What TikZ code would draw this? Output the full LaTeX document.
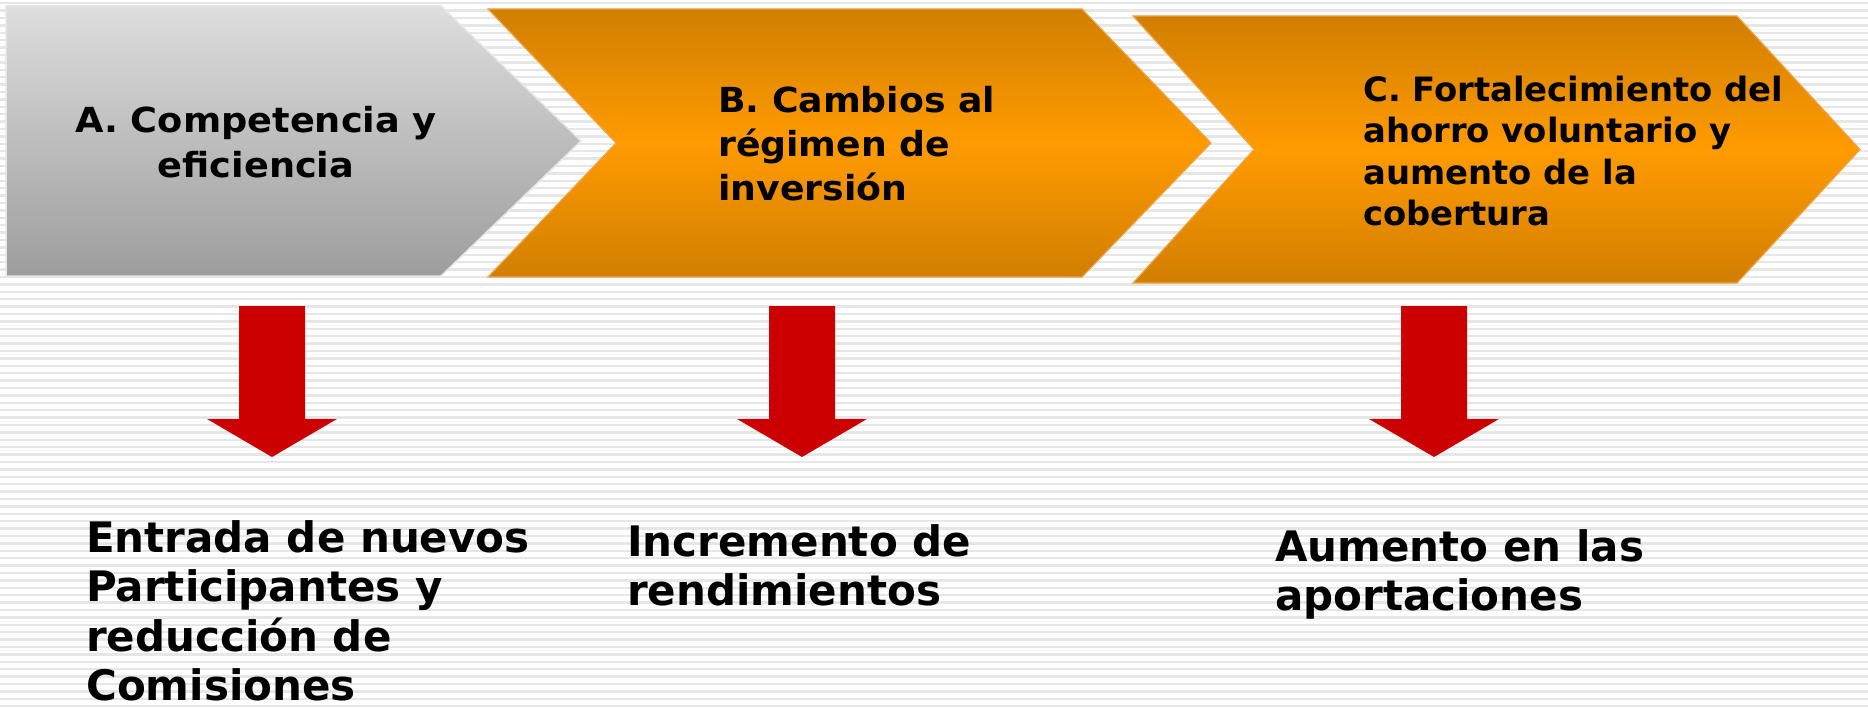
\documentclass[tikz,border=0pt]{standalone}
\usepackage{fontspec}
\setmainfont{DejaVu Sans}
\newfontfamily\fA[FakeStretch=1.064]{DejaVu Sans}
\newfontfamily\fB[FakeStretch=1.05]{DejaVu Sans}
\newfontfamily\fC[FakeStretch=1.01]{DejaVu Sans}
\def\ctrlines#1{\vtop{\halign{\hfil##\hfil\cr#1\crcr}}}
\def\leftlines#1{\vtop{\halign{##\hfil\cr#1\crcr}}}
\definecolor{stripe}{HTML}{E6E6E6}
\definecolor{greytop}{HTML}{DDDDDD}
\definecolor{greybot}{HTML}{9D9D9D}
\definecolor{greyborder}{HTML}{E6E6E6}
\definecolor{otop}{HTML}{D17E00}
\definecolor{omid}{HTML}{FF9B00}
\definecolor{oborder}{HTML}{EDA545}
\definecolor{arrowred}{HTML}{CC0000}
\begin{document}
\begin{tikzpicture}[x=1pt,y=1pt,
  chevgrey/.style={draw=greyborder,line width=1.5pt,line join=miter,top color=greytop,bottom color=greybot},
  chevorange/.style={draw=oborder,line width=1.2pt,line join=miter,top color=otop,bottom color=otop,middle color=omid},
  redarrow/.style={fill=arrowred,draw=none},
  headtxt/.style={inner sep=0pt,text=black},
  restxt/.style={inner sep=0pt,anchor=base west,text=black,font=\bfseries\fontsize{42}{49.5}\selectfont},
]
\useasboundingbox (0,0) rectangle (1868,-709);
\fill[white] (0,0) rectangle (1868,-709);
\foreach \i in {0,...,95} {
  \fill[stripe] (0,{-\i*7.4-2}) rectangle (1868,{-\i*7.4-4.4});
}
% chevrons
\path[chevgrey] (6,-6) -- (441,-6) -- (581,-141) -- (441,-276) -- (6,-276) -- cycle;
\path[chevorange] (488,-9) -- (1082,-9) -- (1211,-143) -- (1082,-277) -- (488,-277) -- (616,-143) -- cycle;
\path[chevorange] (1133,-16) -- (1737,-16) -- (1860,-149.5) -- (1737,-283) -- (1133,-283) -- (1254,-149.5) -- cycle;
% chevron texts
\node[headtxt,anchor=base,font=\fA\bfseries\fontsize{34.5}{44.6}\selectfont] (ta) at (256,-132.5)
  {\ctrlines{A. Competencia y\cr eficiencia}};
\node[headtxt,anchor=base west,font=\fB\bfseries\fontsize{34.5}{44.4}\selectfont] (tb) at (718,-112)
  {\leftlines{B. Cambios al\cr régimen de\cr inversión}};
\node[headtxt,anchor=base west,font=\fC\bfseries\fontsize{33.5}{41.6}\selectfont] (tc) at (1363,-101)
  {\leftlines{C. Fortalecimiento del\cr ahorro voluntario y\cr aumento de la\cr cobertura}};
% red block arrows
\foreach \cx/\nm in {272/a,802/b,1434/c} {
  \coordinate (arrtop\nm) at (\cx,-306);
  \coordinate (arrtip\nm) at (\cx,-457);
  \fill[redarrow] ({\cx-33},-306) -- ({\cx+33},-306) -- ({\cx+33},-419) -- ({\cx+65},-419)
    -- (arrtip\nm) -- ({\cx-65},-419) -- ({\cx-33},-419) -- cycle;
}
% result texts
\node[restxt] (ra) at (86,-552) {\leftlines{Entrada de nuevos\cr Participantes y\cr reducción de\cr Comisiones}};
\node[restxt] (rb) at (627,-556) {\leftlines{Incremento de\cr rendimientos}};
\node[restxt] (rc) at (1275,-561) {\leftlines{Aumento en las\cr aportaciones}};
\end{tikzpicture}
\end{document}
